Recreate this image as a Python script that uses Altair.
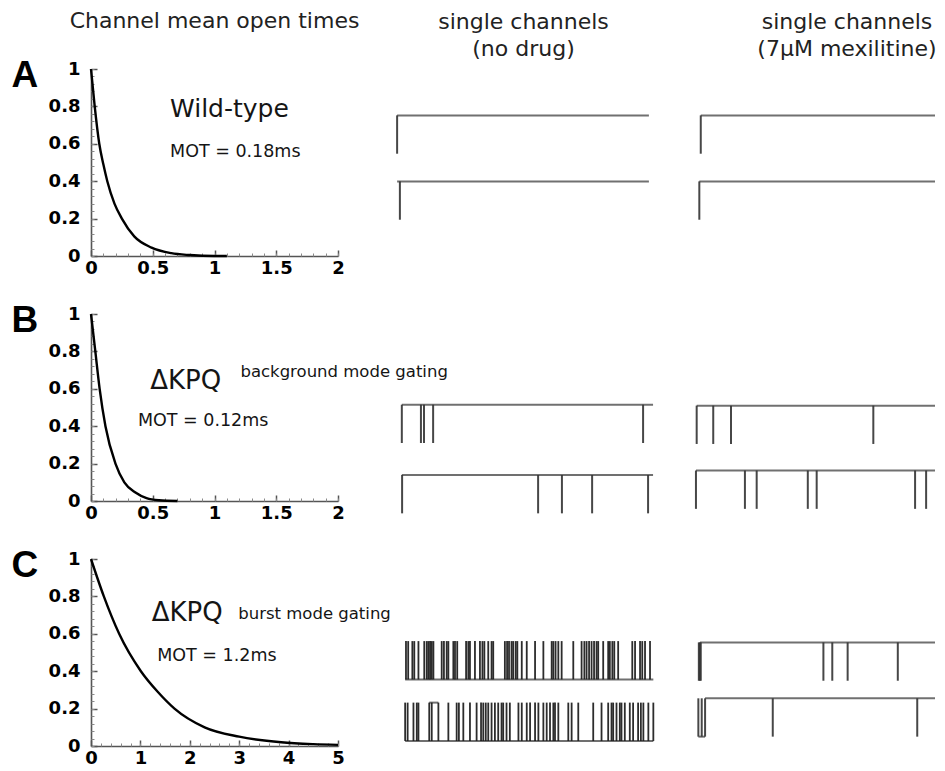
import altair as alt
import pandas as pd

# ---------------- mean open time curves (time in ms, fraction still open) ----------------
A_T = [0, 0.03, 0.067, 0.1, 0.132, 0.19, 0.25, 0.35, 0.49, 0.65, 0.8, 1.0, 1.1]
A_Y = [1, 0.8, 0.6, 0.49, 0.4, 0.28, 0.2, 0.105, 0.045, 0.015, 0.005, 0.0, 0.0]
B_T = [0, 0.035, 0.07, 0.117, 0.198, 0.27, 0.36, 0.45, 0.55, 0.7]
B_Y = [1, 0.8, 0.6, 0.4, 0.2, 0.1, 0.045, 0.015, 0.004, 0.0]
C_T = [0, 0.26, 0.57, 1.01, 1.35, 1.69, 2.3, 3.0, 3.85, 4.5, 5.0]
C_Y = [1, 0.8, 0.6, 0.4, 0.29, 0.2, 0.1, 0.05, 0.02, 0.01, 0.006]

Y_TICKS = [0, 0.2, 0.4, 0.6, 0.8, 1]
Y_MINOR = [round(0.04 * i, 2) for i in range(26)]
X_TICKS_AB = [0, 0.5, 1, 1.5, 2]
X_MINOR_AB = [round(0.1 * i, 1) for i in range(21)]
X_TICKS_C = [0, 1, 2, 3, 4, 5]
X_MINOR_C = [round(0.2 * i, 1) for i in range(26)]

# ---------------- single channel sweeps (time in % of sweep) ----------------
# vertical deflections (openings / closings)
A_ND_1 = [6.9]
A_ND_2 = [7.9]
A_MX_1 = [2.4]
A_MX_2 = [1.8]
B_ND_1 = [8.6, 15.5, 16.6, 19.9, 95.7]
B_ND_2 = [8.7, 57.8, 66.4, 77.3, 97.5]
B_MX_1 = [0.7, 7.6, 15.0, 74.3]
B_MX_2 = [0.4, 20.8, 25.7, 47.0, 50.7, 91.7, 96.3]
C_ND_1 = [10.1, 10.9, 12.4, 13.1, 14.6, 16.7, 17.6, 18.2, 18.8, 19.4, 20.0, 23.0, 23.8,
          24.8, 25.4, 27.2, 27.8, 28.6, 31.8, 32.6, 33.2, 35.0, 36.8, 37.7, 38.4, 39.8,
          41.0, 41.6, 45.8, 46.6, 47.3, 48.2, 48.8, 49.7, 50.3, 51.9, 53.7, 56.7, 59.7,
          62.7, 63.3, 64.1, 65.1, 66.3, 70.5, 73.5, 74.5, 75.3, 76.2, 77.1, 78.0, 78.9,
          79.5, 81.3, 83.1, 83.7, 84.6, 85.3, 86.7, 91.8, 92.8, 94.6, 95.4, 96.4, 98.2]
C_ND_2 = [9.8, 10.7, 12.8, 14.0, 14.6, 18.5, 19.4, 21.8, 25.4, 28.4, 29.2, 30.8, 33.2,
          35.6, 37.2, 38.0, 38.9, 39.8, 41.0, 42.2, 43.4, 44.6, 45.2, 46.4, 47.6, 50.7,
          51.9, 53.7, 54.9, 56.7, 57.9, 59.7, 60.9, 62.1, 63.3, 63.9, 65.1, 68.7, 69.9,
          72.3, 77.7, 80.7, 83.1, 84.3, 84.9, 86.1, 87.3, 87.9, 89.1, 90.9, 92.1, 93.9,
          94.9, 95.8, 97.6, 99.4]
C_MX_1 = [1.6, 2.0, 2.4, 53.5, 57.2, 63.6, 84.5]
C_MX_2 = [1.4, 2.8, 4.2, 32.4, 92.6]

# horizontal stretches: (start, end) at closed level / at open level
A_ND_CLOSED_1 = [(6.9, 97.8)]
A_ND_CLOSED_2 = [(6.9, 97.8)]
A_MX_CLOSED_1 = [(2.4, 100)]
A_MX_CLOSED_2 = [(1.8, 100)]
B_ND_CLOSED_1 = [(8.6, 99.3)]
B_ND_CLOSED_2 = [(8.6, 99.3)]
B_MX_CLOSED_1 = [(0.7, 100)]
B_MX_CLOSED_2 = [(0.4, 100)]
C_ND_OPEN_1 = [(9.8, 99.4)]
C_ND_OPEN_2 = [(9.8, 99.4)]
C_ND_CLOSED_2 = [(18.5, 21.8)]
C_MX_CLOSED_1 = [(2.1, 100)]
C_MX_CLOSED_2 = [(4.2, 100)]
C_MX_OPEN_2 = [(1.4, 4.2)]

# closed-current level of each sweep (arbitrary units) and unitary amplitude
LEVEL_A = (7.52, 3.99)
LEVEL_B_ND = (5.15, 1.39)
LEVEL_B_MX = (5.10, 1.63)
LEVEL_C_ND = (5.61, 2.32)
LEVEL_C_MX = (5.54, 2.55)
AMP = 2.05

FONT = "DejaVu Sans"
AX = "#555555"
PH = 187
W1, W2, W3 = 247, 277, 240


def exp_panel(t, p, xmax, xticks, xminor, letter, notes, title=None):
    df = pd.DataFrame({"t": t, "p": p})
    xs = alt.Scale(domain=[0, xmax], nice=False, zero=False)
    ys = alt.Scale(domain=[0, 1], nice=False)
    curve = alt.Chart(df).mark_line(color="black", strokeWidth=2.4, interpolate="monotone").encode(
        x=alt.X("t:Q", scale=xs, axis=alt.Axis(
            orient="bottom", values=xticks, format="~g", ticks=False, tickSize=0,
            domainColor=AX, domainWidth=1.6, labelFont=FONT, labelFontSize=18,
            labelFontWeight="bold", labelColor="black", labelPadding=3,
            labelFlush=False, labelOverlap=False, grid=False, title=None)),
        y=alt.Y("p:Q", scale=ys, axis=alt.Axis(
            orient="left", values=Y_TICKS, format="~g", ticks=False, tickSize=0,
            domainColor=AX, domainWidth=1.6, labelFont=FONT, labelFontSize=18,
            labelFontWeight="bold", labelColor="black", labelPadding=11,
            labelFlush=False, labelOverlap=False, grid=False,
            title=letter, titleAngle=0, titleAlign="left", titleBaseline="alphabetic",
            titleX=-80, titleY=17, titleFont="Liberation Sans", titleFontSize=37,
            titleFontWeight="bold", titleColor="black")),
    )
    major = alt.Chart(df).mark_line(opacity=0).encode(
        x=alt.X("t:Q", scale=xs, axis=alt.Axis(
            orient="bottom", offset=-6, values=xticks, domain=False, labels=False,
            ticks=True, tickSize=6, tickWidth=1.5, tickColor=AX, grid=False, title=None)),
        y=alt.Y("p:Q", scale=ys, axis=alt.Axis(
            orient="left", offset=-6, values=Y_TICKS, domain=False, labels=False,
            ticks=True, tickSize=6, tickWidth=1.5, tickColor=AX, grid=False, title=None)),
    )
    minor = alt.Chart(df).mark_line(opacity=0).encode(
        x=alt.X("t:Q", scale=xs, axis=alt.Axis(
            orient="bottom", offset=-3, values=xminor, domain=False, labels=False,
            ticks=True, tickSize=3, tickWidth=1, tickColor="#8a8a8a", grid=False, title=None)),
        y=alt.Y("p:Q", scale=ys, axis=alt.Axis(
            orient="left", offset=-3, values=Y_MINOR, domain=False, labels=False,
            ticks=True, tickSize=3, tickWidth=1, tickColor="#8a8a8a", grid=False, title=None)),
    )
    one = pd.DataFrame({"k": [0]})
    texts = []
    for s, x, y, size in notes:
        texts.append(alt.Chart(one).mark_text(
            align="left", baseline="alphabetic", font=FONT, fontSize=size, color="#151515"
        ).encode(x=alt.XDatum(x, axis=None), y=alt.YDatum(y, axis=None), text=alt.value(s)))
    ch = alt.layer(curve, major, minor, *texts).resolve_axis(x="independent", y="independent")
    props = dict(width=W1, height=PH)
    if title is not None:
        props["title"] = title
    return ch.properties(**props)


def trace_panel(sweeps, width, title=None):
    ev_rows, h_rows = [], []
    for events, closed_spans, open_spans, level in sweeps:
        for t in events:
            ev_rows.append({"t": t, "y0": level, "y1": level - AMP})
        for s, e in closed_spans:
            h_rows.append({"s": s, "e": e, "lvl": level})
        for s, e in open_spans:
            h_rows.append({"s": s, "e": e, "lvl": level - AMP})
    ev = pd.DataFrame(ev_rows)
    hz = pd.DataFrame(h_rows)
    xs = alt.Scale(domain=[0, 100], nice=False, zero=False)
    ys = alt.Scale(domain=[0, 10], nice=False, zero=False)
    dense = len(ev_rows) > 40
    vert = alt.Chart(ev).mark_rule(
        color="#151515" if dense else "#333333", strokeWidth=1.8 if dense else 2.0,
        opacity=0.9).encode(
        x=alt.X("t:Q", scale=xs, axis=None),
        y=alt.Y("y0:Q", scale=ys, axis=None),
        y2="y1:Q")
    horiz = alt.Chart(hz).mark_rule(color="#707070", strokeWidth=2.0).encode(
        x=alt.X("s:Q", scale=xs, axis=None),
        x2="e:Q",
        y=alt.Y("lvl:Q", scale=ys, axis=None))
    props = dict(width=width, height=PH)
    if title is not None:
        props["title"] = title
    return alt.layer(horiz, vert).properties(**props)


def head(lines, offset, dx=0):
    return alt.TitleParams(lines, offset=offset, dx=dx, lineHeight=27, font=FONT,
                           fontSize=22, fontWeight="normal", color="#222222", anchor="middle")


exp_a = exp_panel(A_T, A_Y, 2, X_TICKS_AB, X_MINOR_AB, "A",
                  [("Wild-type", 0.64, 0.742, 25), ("MOT = 0.18ms", 0.64, 0.529, 17.5)],
                  title=head("Channel mean open times", 23))
exp_b = exp_panel(B_T, B_Y, 2, X_TICKS_AB, X_MINOR_AB, "B",
                  [("ΔKPQ", 0.48, 0.60, 26), ("background mode gating", 1.21, 0.665, 16.5),
                   ("MOT = 0.12ms", 0.38, 0.40, 17.5)])
exp_c = exp_panel(C_T, C_Y, 5, X_TICKS_C, X_MINOR_C, "C",
                  [("ΔKPQ", 1.23, 0.667, 26), ("burst mode gating", 2.98, 0.68, 16.5),
                   ("MOT = 1.2ms", 1.34, 0.457, 17.5)])

tr_a1 = trace_panel([(A_ND_1, A_ND_CLOSED_1, [], LEVEL_A[0]), (A_ND_2, A_ND_CLOSED_2, [], LEVEL_A[1])],
                    W2, title=head(["single channels", "(no drug)"], 8, dx=7))
tr_a2 = trace_panel([(A_MX_1, A_MX_CLOSED_1, [], LEVEL_A[0]), (A_MX_2, A_MX_CLOSED_2, [], LEVEL_A[1])],
                    W3, title=head(["single channels", "(7μM mexilitine)"], 8, dx=32))
tr_b1 = trace_panel([(B_ND_1, B_ND_CLOSED_1, [], LEVEL_B_ND[0]), (B_ND_2, B_ND_CLOSED_2, [], LEVEL_B_ND[1])], W2)
tr_b2 = trace_panel([(B_MX_1, B_MX_CLOSED_1, [], LEVEL_B_MX[0]), (B_MX_2, B_MX_CLOSED_2, [], LEVEL_B_MX[1])], W3)
tr_c1 = trace_panel([(C_ND_1, [], C_ND_OPEN_1, LEVEL_C_ND[0]),
                     (C_ND_2, C_ND_CLOSED_2, C_ND_OPEN_2, LEVEL_C_ND[1])], W2)
tr_c2 = trace_panel([(C_MX_1, C_MX_CLOSED_1, [], LEVEL_C_MX[0]),
                     (C_MX_2, C_MX_CLOSED_2, C_MX_OPEN_2, LEVEL_C_MX[1])], W3)

chart = alt.concat(exp_a, tr_a1, tr_a2, exp_b, tr_b1, tr_b2, exp_c, tr_c1, tr_c2,
                   columns=3, spacing={"row": 58, "column": 40}, bounds="flush",
                   padding={"left": 3, "top": 2, "right": 0, "bottom": 0},
                   background="white").configure_view(stroke=None)

chart.save("out.html", embed_options={"renderer": "svg", "actions": False})
